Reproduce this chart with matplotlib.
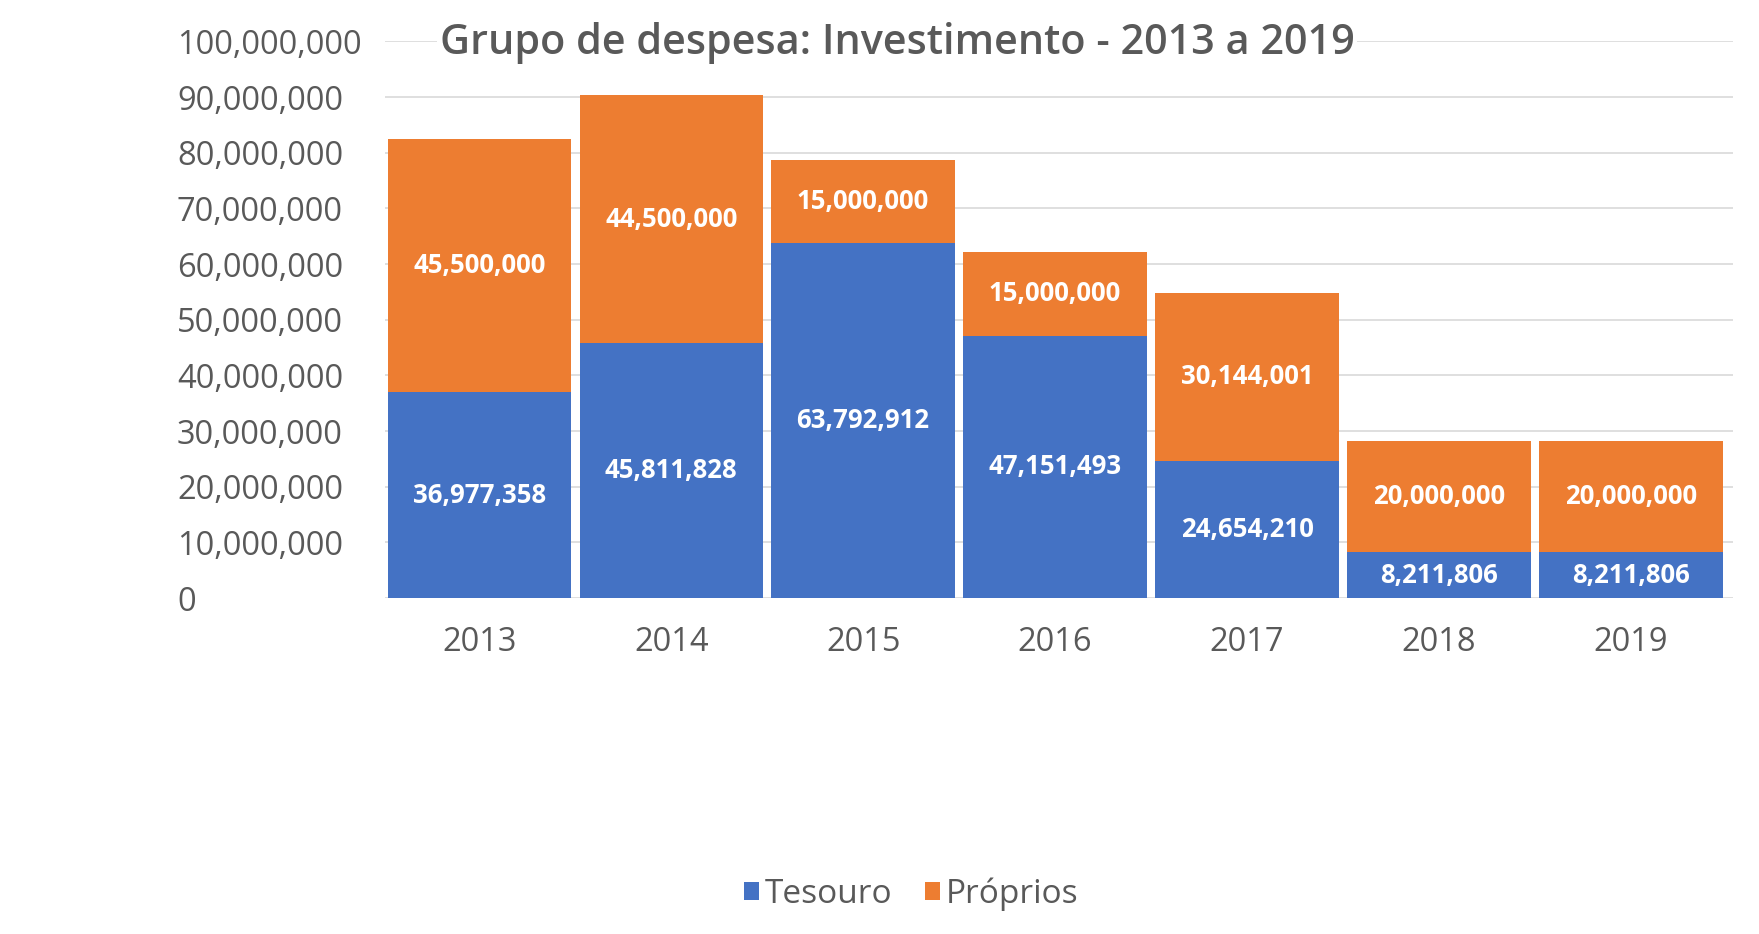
import matplotlib.pyplot as plt
from matplotlib.ticker import FuncFormatter

# Data
years = ["2013", "2014", "2015", "2016", "2017", "2018", "2019"]
tesouro = [36977358, 45811828, 63792912, 47151493, 24654210, 8211806, 8211806]
proprios = [45500000, 44500000, 15000000, 15000000, 30144001, 20000000, 20000000]

blue = "#4472C4"
orange = "#ED7D31"
text_gray = "#595959"

plt.rcParams["font.family"] = ["Open Sans", "DejaVu Sans"]

fig = plt.figure(figsize=(17.59, 9.34), dpi=100)
ax = fig.add_axes([0.219, 0.3597, 0.766, 0.5959])

# stacked bars
x = range(len(years))
b1 = ax.bar(x, tesouro, width=0.955, color=blue, label="Tesouro", zorder=2)
b2 = ax.bar(x, proprios, width=0.955, bottom=tesouro, color=orange, label="Próprios", zorder=2)

ax.bar_label(b1, labels=[f"{v:,}" for v in tesouro], label_type="center",
             color="white", fontsize=18.5, fontweight="bold")
ax.bar_label(b2, labels=[f"{v:,}" for v in proprios], label_type="center",
             color="white", fontsize=18.5, fontweight="bold")

# axes styling
ax.set_xlim(-0.49, 6.53)
ax.set_ylim(0, 100000000)
ax.set_yticks(range(0, 100000001, 10000000))
ax.yaxis.set_major_formatter(FuncFormatter(lambda v, p: f"{int(v):,}"))
ax.set_xticks(list(x))
ax.set_xticklabels(years)
ax.tick_params(axis="both", length=0, labelsize=23.5, labelcolor=text_gray)
ax.tick_params(axis="x", pad=20)
for lbl in ax.get_yticklabels():
    lbl.set_horizontalalignment("left")
ax.yaxis.set_tick_params(pad=150)
ax.grid(axis="y", color="#D9D9D9", linewidth=1.2, zorder=0)
for s in ax.spines.values():
    s.set_visible(False)

# title sits over the top gridline
fig.text(0.51, 0.954, "Grupo de despesa: Investimento - 2013 a 2019",
         ha="center", va="center", fontsize=29.8, fontweight="semibold", color=text_gray,
         bbox=dict(facecolor="white", edgecolor="none", pad=2))

fig.legend(handles=[b1, b2], labels=["Tesouro", "Próprios"], loc="center",
           bbox_to_anchor=(0.518, 0.043), ncol=2, frameon=False, fontsize=24,
           labelcolor=text_gray, handlelength=0.45, handleheight=0.45,
           handletextpad=0.15, columnspacing=1.0)

plt.savefig("out.png", dpi=100)
